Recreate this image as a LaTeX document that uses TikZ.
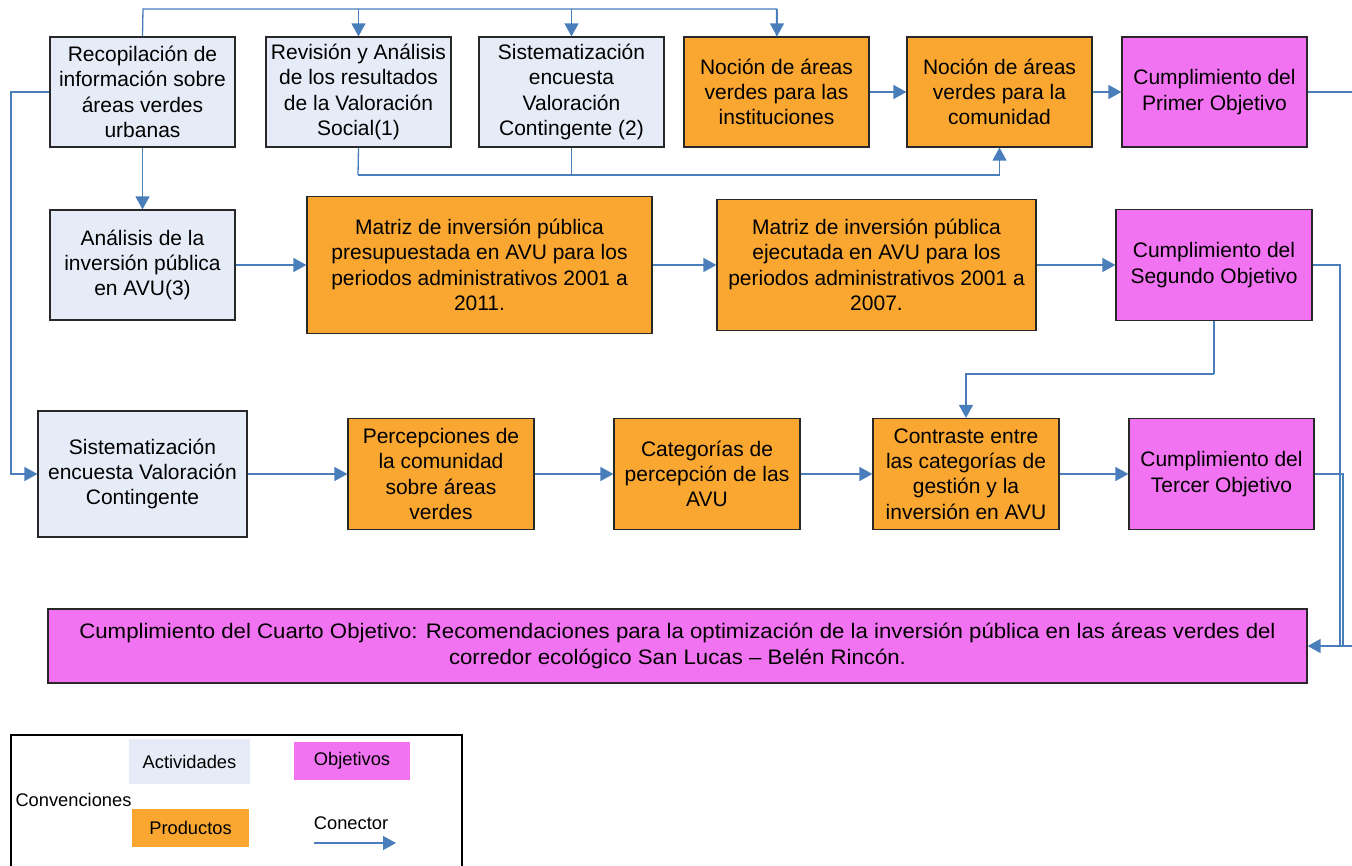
\documentclass[tikz,border=0pt]{standalone}
\usepackage{fontspec}
\setmainfont{Liberation Sans}
\newfontfamily\widefont[FakeStretch=1.058]{Liberation Sans}
\usetikzlibrary{arrows.meta}
\definecolor{actfill}{RGB}{230,236,247}
\definecolor{prodfill}{RGB}{250,167,50}
\definecolor{objfill}{RGB}{242,115,242}
\definecolor{boxline}{RGB}{40,40,40}
\definecolor{connc}{RGB}{74,126,187}
\newcommand{\mainsz}{\fontsize{21}{25.3}\selectfont}
\newcommand{\legsz}{\fontsize{18.3}{22}\selectfont}
\tikzset{
  box/.style={draw=boxline, line width=1.2pt, rectangle, inner sep=0pt, align=center, font=\mainsz},
  act/.style={box, fill=actfill},
  prod/.style={box, fill=prodfill},
  obj/.style={box, fill=objfill},
  conn/.style={draw=connc, line width=1.3pt, -{Triangle[length=13pt,width=14pt]}},
  plain/.style={draw=connc, line width=1.3pt},
  legbox/.style={rectangle, inner sep=0pt, align=center, font=\legsz},
}
\begin{document}
\begin{tikzpicture}[x=1pt,y=-1pt]
\useasboundingbox (0,0) rectangle (1352,866);
% row 1
\node[act, minimum width=185pt, minimum height=110pt] (A1) at (142.5,92) {Recopilación de\\información sobre\\áreas verdes\\urbanas};
\node[act, minimum width=185pt, minimum height=110pt] (A2) at (358.5,92) {Revisión y Análisis\\de los resultados\\de la Valoración\\Social(1)};
\node[act, minimum width=185pt, minimum height=110pt] (A3) at (571.5,92) {Sistematización\\encuesta\\Valoración\\Contingente (2)};
\node[prod, minimum width=185pt, minimum height=110pt] (P1) at (776.5,92) {Noción de áreas\\verdes para las\\instituciones};
\node[prod, minimum width=185pt, minimum height=110pt] (P2) at (999.5,92) {Noción de áreas\\verdes para la\\comunidad};
\node[obj, minimum width=185pt, minimum height=110pt] (O1) at (1214.5,92) {Cumplimiento del\\Primer Objetivo};
% row 2
\node[act, minimum width=185pt, minimum height=110pt] (A4) at (142.5,265) {Análisis de la\\inversión pública\\en AVU(3)};
\node[prod, minimum width=345pt, minimum height=137pt] (M1) at (479.5,265) {Matriz de inversión pública\\presupuestada en AVU para los\\periodos administrativos 2001 a\\2011.};
\node[prod, minimum width=319pt, minimum height=131pt] (M2) at (876.5,265) {Matriz de inversión pública\\ejecutada en AVU para los\\periodos administrativos 2001 a\\2007.};
\node[obj, minimum width=196pt, minimum height=111pt] (O2) at (1214,265) {Cumplimiento del\\Segundo Objetivo};
% row 3
\node[act, minimum width=209pt, minimum height=126pt] (S) at (142.5,474) {Sistematización\\encuesta Valoración\\Contingente};
\node[prod, minimum width=186pt, minimum height=111pt] (PC) at (441,474) {Percepciones de\\la comunidad\\sobre áreas\\verdes};
\node[prod, minimum width=186pt, minimum height=111pt] (CT) at (707,474) {Categorías de\\percepción de las\\AVU};
\node[prod, minimum width=186pt, minimum height=111pt] (CO) at (966,474) {Contraste entre\\las categorías de\\gestión y la\\inversión en AVU};
\node[obj, minimum width=185pt, minimum height=111pt] (O3) at (1221.5,474) {Cumplimiento del\\Tercer Objetivo};
% row 4
\node[obj, minimum width=1259pt, minimum height=74pt, font=\widefont\mainsz] (O4) at (677.5,646) {Cumplimiento del Cuarto Objetivo: Recomendaciones para la optimización de la inversión pública en las áreas verdes del\\corredor ecológico San Lucas – Belén Rincón.};
% helper coordinates
\coordinate (top) at (143,9);
\coordinate (bot) at (358,175);
\coordinate (lft) at (11,92);
\coordinate (mid) at (1214,374);
\coordinate (rA) at (1356,92);
\coordinate (rB) at (1356,646);
\coordinate (r2) at (1340,265);
\coordinate (r3) at (1343,474);
% connectors row 1
\draw[plain] (A1.north) -- (top) -| (P1.north);
\draw[conn] (A2.north |- top) -- (A2.north);
\draw[conn] (A3.north |- top) -- (A3.north);
\draw[conn] ([xshift=0.5pt]P1.north |- top) -- ([xshift=0.5pt]P1.north);
\draw[conn] (A1.west) -- (lft) |- (S.west);
\draw[conn] (A1.south) -- (A4.north);
\draw[plain] (A2.south) -- (bot);
\draw[conn] (bot) -| (P2.south);
\draw[plain] (A3.south) -- (A3.south |- bot);
\draw[conn] (P1.east) -- (P2.west);
\draw[conn] (P2.east) -- (O1.west);
\draw[plain] (O1.east) -- (rA) -- (rB);
\draw[conn] (rB) -- (O4.east);
% row 2
\draw[conn] (A4.east) -- (M1.west);
\draw[conn] (M1.east) -- (M2.west);
\draw[conn] (M2.east) -- (O2.west);
\draw[plain] (O2.east) -- (r2) -- (r2 |- O4.east);
\draw[plain] (O2.south) -- (mid);
\draw[conn] (mid) -| (CO.north);
% row 3
\draw[conn] (S.east) -- (PC.west);
\draw[conn] (PC.east) -- (CT.west);
\draw[conn] (CT.east) -- (CO.west);
\draw[conn] (CO.east) -- (O3.west);
\draw[plain] (O3.east) -- (r3) -- (r3 |- O4.east);
% legend
\draw[black, line width=1.2pt] (11,870) -- (11,735) -- (462,735) -- (462,870);
\node[legbox, fill=actfill, minimum width=121pt, minimum height=45pt] (LA) at (189.5,761.5) {Actividades};
\node[legbox, fill=objfill, minimum width=116pt, minimum height=38pt] (LO) at (352,761) {Objetivos};
\node[legbox, fill=prodfill, minimum width=117pt, minimum height=38pt] (LP) at (190.5,828) {Productos};
\node[legbox] (LC) at (73.5,800) {Convenciones};
\node[legbox] (LK) at (351,823) {Conector};
\coordinate (ka) at (314,843);
\coordinate (kb) at (396,843);
\draw[conn] (ka) -- (kb);
\end{tikzpicture}
\end{document}
